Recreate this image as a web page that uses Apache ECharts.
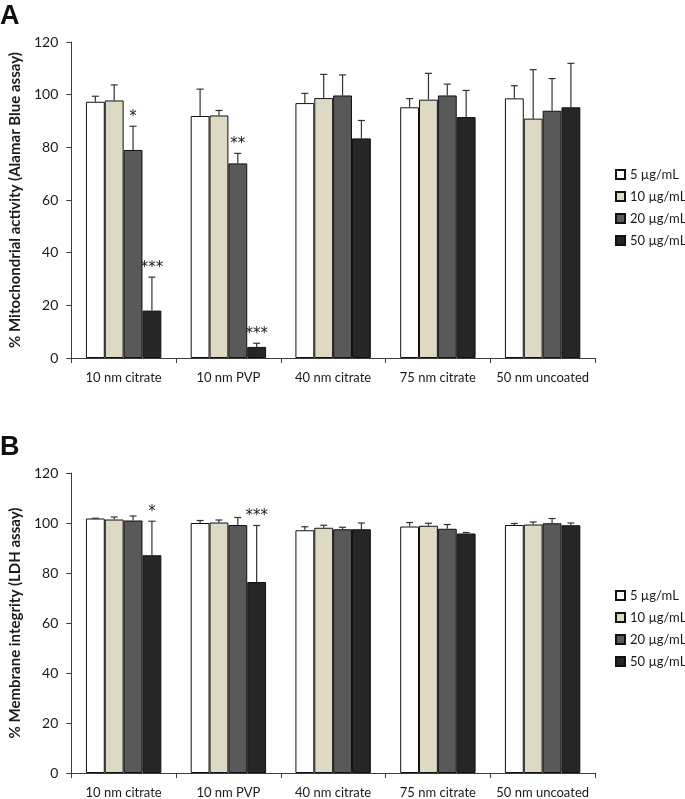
<!DOCTYPE html>
<html>
<head>
<meta charset="utf-8">
<script src="https://cdn.jsdelivr.net/npm/echarts@6/dist/echarts.min.js"></script>
<style>html,body{margin:0;padding:0;background:#fff;}#c{width:685px;height:799px;}</style>
</head>
<body>
<div id="c"></div>
<script>
const categories = ['10 nm citrate', '10 nm PVP', '40 nm citrate', '75 nm citrate', '50 nm uncoated'];
const doses = ['5 µg/mL', '10 µg/mL', '20 µg/mL', '50 µg/mL'];
const yTicks = [0, 20, 40, 60, 80, 100, 120];

// Panel A: % Mitochondrial activity (Alamar Blue assay)
const a5 = [97.3, 91.9, 96.8, 95.2, 98.6];
const a10 = [97.8, 92.1, 98.7, 98.1, 90.9];
const a20 = [79.0, 73.9, 99.7, 99.7, 93.9];
const a50 = [18.0, 4.2, 83.4, 91.5, 95.2];
const a5Err = [2.1, 10.2, 3.7, 3.3, 4.8];
const a10Err = [5.9, 1.9, 9.0, 10.0, 18.6];
const a20Err = [9.0, 3.8, 7.8, 4.3, 12.2];
const a50Err = [12.7, 1.4, 6.8, 10.1, 16.7];
const a5Sig = ['', '', '', '', ''];
const a10Sig = ['', '', '', '', ''];
const a20Sig = ['*', '**', '', '', ''];
const a50Sig = ['***', '***', '', '', ''];

// Panel B: % Membrane integrity (LDH assay)
const b5 = [101.8, 100.0, 97.1, 98.6, 99.2];
const b10 = [101.4, 100.2, 98.1, 98.9, 99.4];
const b20 = [101.0, 99.2, 97.5, 97.7, 99.9];
const b50 = [87.1, 76.4, 97.5, 95.8, 99.1];
const b5Err = [0.1, 1.0, 1.4, 1.6, 0.6];
const b10Err = [1.0, 1.0, 1.0, 1.0, 1.0];
const b20Err = [1.8, 3.0, 0.8, 1.7, 1.9];
const b50Err = [13.6, 22.6, 2.5, 0.4, 0.9];
const b5Sig = ['', '', '', '', ''];
const b10Sig = ['', '', '', '', ''];
const b20Sig = ['', '', '', '', ''];
const b50Sig = ['*', '***', '', '', ''];

const colors = ['#ffffff', '#ddd9c3', '#595959', '#262626'];
const FONT = "Lato, 'Open Sans', sans-serif";
const CAT_GAP = 0.28;

const panels = [
  {vals: [a5, a10, a20, a50], errs: [a5Err, a10Err, a20Err, a50Err], sigs: [a5Sig, a10Sig, a20Sig, a50Sig], title: '% Mitochondrial activity (Alamar Blue assay)'},
  {vals: [b5, b10, b20, b50], errs: [b5Err, b10Err, b20Err, b50Err], sigs: [b5Sig, b10Sig, b20Sig, b50Sig], title: '% Membrane integrity (LDH assay)'}
];

const axisColor = '#3c3c3c';
const grids = [
  {left: 57, top: 42, width: 538, height: 316},
  {left: 57, top: 473, width: 538, height: 303}
];

const xAxes = grids.map((g, i) => ({
  type: 'category', gridIndex: i, data: categories,
  axisLine: {lineStyle: {color: axisColor, width: 1}},
  axisTick: {show: true, length: 5, lineStyle: {color: axisColor}},
  axisLabel: {color: '#1a1a1a', fontSize: 13, fontFamily: FONT, margin: 13, interval: 0}
}));
const yAxes = grids.map((g, i) => ({
  type: 'value', gridIndex: i, min: yTicks[0], max: yTicks[yTicks.length - 1], interval: yTicks[1] - yTicks[0],
  name: panels[i].title, nameLocation: 'middle', nameRotate: 90, nameGap: 40,
  nameTextStyle: {fontSize: 15, fontWeight: 'bold', color: '#1a1a1a', fontFamily: FONT},
  axisLine: {show: true, lineStyle: {color: axisColor, width: 1}},
  axisTick: {show: true, length: 5, lineStyle: {color: axisColor}},
  axisLabel: {color: '#1a1a1a', fontSize: 14, fontFamily: FONT, margin: 13},
  splitLine: {show: false}
}));

const series = [];
panels.forEach((p, pi) => {
  p.vals.forEach((v, s) => {
    series.push({
      type: 'bar', name: doses[s], xAxisIndex: pi, yAxisIndex: pi, data: v,
      barGap: '0%', barCategoryGap: (CAT_GAP * 100) + '%',
      itemStyle: {color: colors[s], borderColor: '#111', borderWidth: 1},
      emphasis: {disabled: true}
    });
  });
  p.vals.forEach((v, s) => {
    const errs = p.errs[s], sigs = p.sigs[s];
    series.push({
      type: 'custom', xAxisIndex: pi, yAxisIndex: pi, z: 3,
      data: v.map((val, k) => [k, val, errs[k]]),
      renderItem: function (params, api) {
        const x = api.value(0), y = api.value(1), e = api.value(2);
        const base = api.coord([x, y]);
        const top = api.coord([x, y + e]);
        const band = api.size([1, 0])[0];
        const bw = band * (1 - CAT_GAP) / 4;
        const cx = base[0] - 2 * bw + (s + 0.5) * bw;
        const children = [
          {type: 'line', shape: {x1: cx, y1: base[1], x2: cx, y2: top[1]}, style: {stroke: '#333', lineWidth: 1.2}},
          {type: 'line', shape: {x1: cx - 3.5, y1: top[1], x2: cx + 3.5, y2: top[1]}, style: {stroke: '#333', lineWidth: 1.2}}
        ];
        const sg = sigs[params.dataIndex];
        if (sg) {
          children.push({type: 'text', style: {text: sg, x: cx, y: top[1] - 2, align: 'center', verticalAlign: 'bottom', font: "15px 'DejaVu Sans', sans-serif", fill: '#1a1a1a'}});
        }
        return {type: 'group', children: children};
      },
      silent: true
    });
  });
});

const legends = [
  {top: 167, left: 615},
  {top: 588, left: 615}
].map(l => ({
  orient: 'vertical', top: l.top, left: l.left, data: doses, icon: 'rect', padding: 0,
  itemWidth: 9, itemHeight: 9, itemGap: 7, selectedMode: false,
  textStyle: {fontSize: 13, lineHeight: 15, color: '#1a1a1a', fontFamily: FONT}
}));

const chart = echarts.init(document.getElementById('c'), null, {renderer: 'canvas'});
chart.setOption({
  animation: false,
  backgroundColor: '#fff',
  grid: grids,
  xAxis: xAxes,
  yAxis: yAxes,
  legend: legends,
  series: series,
  graphic: [
    {type: 'text', left: 0, top: 3, style: {text: 'A', font: "bold 27px 'Liberation Sans', Arial, sans-serif", fill: '#111'}},
    {type: 'text', left: 0, top: 434, style: {text: 'B', font: "bold 27px 'Liberation Sans', Arial, sans-serif", fill: '#111'}}
  ]
});
</script>
</body>
</html>
